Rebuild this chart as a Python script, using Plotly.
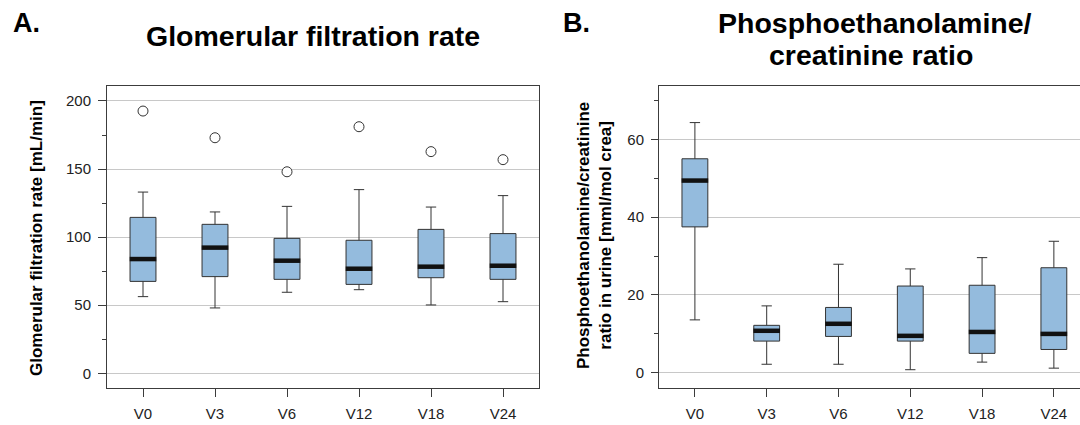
import plotly.graph_objects as go

# ---------------- data ----------------
visits = ["V0", "V3", "V6", "V12", "V18", "V24"]

# Panel A: Glomerular filtration rate [mL/min]
gfr_low = [56.3, 48.0, 59.5, 61.4, 50.2, 52.6]
gfr_q1 = [67.5, 71.0, 69.0, 65.3, 70.2, 69.0]
gfr_median = [83.9, 92.3, 82.7, 76.8, 78.3, 79.0]
gfr_q3 = [114.5, 109.4, 99.1, 97.7, 105.7, 102.6]
gfr_high = [133.1, 118.5, 122.6, 134.9, 122.1, 130.5]
gfr_outliers = [192.6, 173.0, 148.0, 181.1, 162.8, 156.9]

# Panel B: Phosphoethanolamine/creatinine ratio [mml/mol crea]
pea_low = [13.6, 2.2, 2.2, 0.8, 2.75, 1.2]
pea_q1 = [37.5, 8.15, 9.35, 8.15, 5.0, 6.0]
pea_median = [49.4, 10.8, 12.6, 9.5, 10.5, 10.0]
pea_q3 = [55.0, 12.2, 16.8, 22.3, 22.5, 27.0]
pea_high = [64.3, 17.2, 27.9, 26.7, 29.6, 33.8]

# ---------------- style ----------------
FONT = "Liberation Sans, Arial, sans-serif"
BOX_FILL = "#94bbdd"
EDGE = "#333333"
GRID = "#c8c8c8"
FRAME = "#3c3c3c"
BOX_W = 0.36

xpos = list(range(len(visits)))

fig = go.Figure()


def add_panel(xa, ya, low, q1, med, q3, high, outliers=None):
    fig.add_trace(go.Box(
        x=xpos, q1=q1, median=med, q3=q3, lowerfence=low, upperfence=high,
        width=BOX_W, whiskerwidth=0.4, boxpoints=False,
        fillcolor=BOX_FILL, line=dict(color=EDGE, width=1),
        xaxis=xa, yaxis=ya, showlegend=False, hoverinfo="skip",
    ))
    # thick median bar (line-ew symbol length = 1.4 * size)
    fig.add_trace(go.Scatter(
        x=xpos, y=med, mode="markers",
        marker=dict(symbol="line-ew", size=19,
                    line=dict(color="#111111", width=4.5)),
        xaxis=xa, yaxis=ya, showlegend=False, hoverinfo="skip",
    ))
    if outliers is not None:
        fig.add_trace(go.Scatter(
            x=xpos, y=outliers, mode="markers",
            marker=dict(symbol="circle", size=10, color="white",
                        line=dict(color=EDGE, width=1)),
            xaxis=xa, yaxis=ya, showlegend=False, hoverinfo="skip",
        ))


add_panel("x", "y", gfr_low, gfr_q1, gfr_median, gfr_q3, gfr_high, gfr_outliers)
add_panel("x2", "y2", pea_low, pea_q1, pea_median, pea_q3, pea_high)

H = 425
W = 1080
ydom = [(H - 388) / H, (H - 86) / H]

tickfont = dict(family=FONT, size=15, color="#222222")

xcommon = dict(
    tickmode="array", tickvals=xpos, ticktext=visits,
    showgrid=False, zeroline=False, showline=True, linecolor=FRAME, linewidth=1,
    ticks="outside", ticklen=8, tickcolor=FRAME, tickfont=tickfont,
    ticklabelstandoff=4, mirror=True,
)

fig.update_layout(
    width=W, height=H,
    margin=dict(l=0, r=0, t=0, b=0),
    paper_bgcolor="white", plot_bgcolor="white",
    font=dict(family=FONT),
    xaxis=dict(domain=[107 / W, 539 / W], range=[-0.5, 5.5], anchor="y", **xcommon),
    xaxis2=dict(domain=[659 / W, 1.0], range=[-0.5, 5.364], anchor="y2", **xcommon),
    yaxis=dict(
        domain=ydom, range=[-10.8, 211], anchor="x",
        tickmode="linear", tick0=0, dtick=50,
        showgrid=True, gridcolor=GRID, gridwidth=1, zeroline=False,
        showline=True, linecolor=FRAME, linewidth=1, mirror=True,
        ticks="outside", ticklen=8, tickcolor=FRAME, tickfont=tickfont,
        ticklabelstandoff=4,
        minor=dict(tick0=0, dtick=25, ticks="outside", ticklen=4,
                   tickcolor=FRAME, showgrid=False),
    ),
    yaxis2=dict(
        domain=ydom, range=[-3.9, 73.7], anchor="x2",
        tickmode="linear", tick0=0, dtick=20,
        showgrid=True, gridcolor=GRID, gridwidth=1, zeroline=False,
        showline=True, linecolor=FRAME, linewidth=1, mirror=False,
        ticks="outside", ticklen=7, tickcolor=FRAME, tickfont=tickfont,
        ticklabelstandoff=4,
        minor=dict(tick0=0, dtick=10, ticks="outside", ticklen=4,
                   tickcolor=FRAME, showgrid=False),
    ),
)

title_font = dict(family=FONT, size=28.5, color="black")
label_font = dict(family=FONT, size=27, color="black")
anns = [
    dict(text="<b>A.</b>", x=11 / W, y=1 - 23 / H, xanchor="left", yanchor="middle", font=label_font),
    dict(text="<b>B.</b>", x=561 / W, y=1 - 23 / H, xanchor="left", yanchor="middle", font=label_font),
    dict(text="<b>Glomerular filtration rate</b>", x=313 / W, y=1 - 36 / H,
         xanchor="center", yanchor="middle", font=title_font),
    dict(text="<b>Phosphoethanolamine/</b>", x=875 / W, y=1 - 23 / H,
         xanchor="center", yanchor="middle", font=title_font),
    dict(text="<b>creatinine ratio</b>", x=871 / W, y=1 - 55 / H,
         xanchor="center", yanchor="middle", font=title_font),
    dict(text="<b>Glomerular filtration rate [mL/min]</b>", x=36 / W, y=1 - 238 / H,
         textangle=-90, xanchor="center", yanchor="middle",
         font=dict(family=FONT, size=17, color="black")),
    dict(text="<b>Phosphoethanolamine/creatinine<br>ratio in urine [mml/mol crea]</b>",
         x=594 / W, y=1 - 236 / H, textangle=-90, xanchor="center", yanchor="middle",
         font=dict(family=FONT, size=17, color="black")),
]
for a in anns:
    a.update(xref="paper", yref="paper", showarrow=False)
fig.update_layout(annotations=anns)

# remove the browser's default 8px body margin so the figure sits at (0, 0)
fig.write_html(
    "out.html",
    config={"displayModeBar": False},
    post_script="document.body.style.margin='0';document.body.style.overflow='hidden';",
)
